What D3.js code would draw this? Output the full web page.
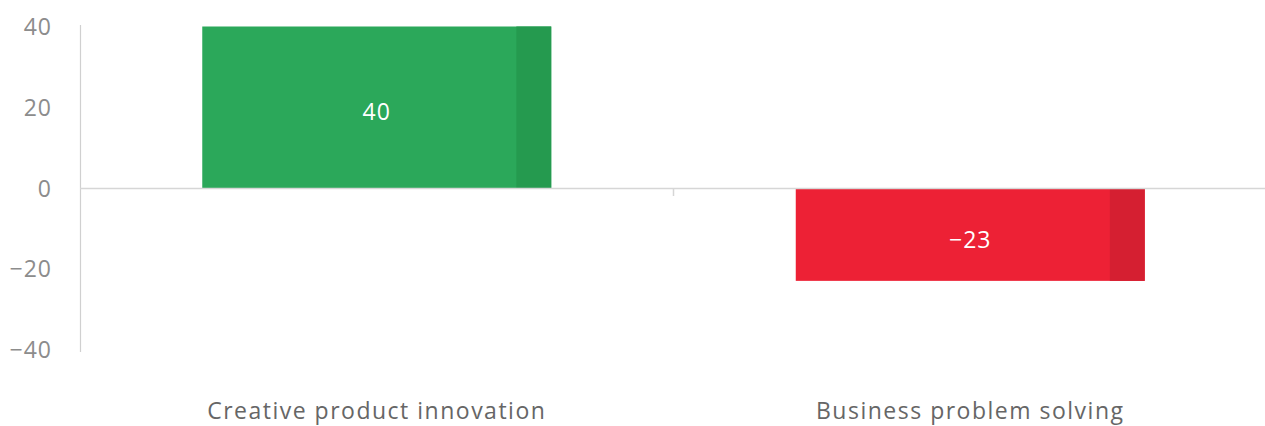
<!DOCTYPE html>
<html><head><meta charset="utf-8">
<script src="https://cdn.jsdelivr.net/npm/d3@7"></script>
<style>
html,body{margin:0;padding:0;background:#fff;}
svg{display:block;}
</style></head>
<body>
<svg id="chart" width="1265" height="426"></svg>
<script>
const categories = ["Creative product innovation", "Business problem solving"];
const values = [40, -23];
const valueLabels = ["40", "\u221223"];
const yTicks = [-40, -20, 0, 20, 40];
const barColors = ["#2ba85a", "#ed2135"];
const barShades = ["#259a4f", "#d51f31"];

const svg = d3.select("#chart");
const W = 1265, H = 426;
const font = "'Open Sans', sans-serif";

const y = d3.scaleLinear().domain([-40, 40]).range([349.5, 26.5]);
const x = d3.scaleBand().domain(categories).range([80, 1267]).paddingInner(0.412).paddingOuter(0.206);

// y axis labels
const yAxis = d3.axisLeft(y).tickValues(yTicks).tickSize(0).tickPadding(0);
const gy = svg.append("g").attr("transform", "translate(52,0)").call(yAxis);
gy.select(".domain").remove();
gy.selectAll("text").attr("font-family", font).attr("font-size", 23).attr("letter-spacing", 1)
  .attr("fill", "#8c8c8c").attr("dy", "0.35em");

// vertical axis line
svg.append("line").attr("x1", 80.5).attr("x2", 80.5).attr("y1", 25).attr("y2", 352)
  .attr("stroke", "#d0d0d0").attr("stroke-width", 1.2);

// bars
const bars = svg.append("g");
categories.forEach((c, i) => {
  const v = values[i];
  const x0 = x(c), bw = x.bandwidth();
  const yt = y(Math.max(0, v)), yb = y(Math.min(0, v));
  bars.append("rect").attr("x", x0).attr("y", yt).attr("width", bw).attr("height", yb - yt).attr("fill", barColors[i]);
  const sw = bw * 0.1;
  bars.append("rect").attr("x", x0 + bw - sw).attr("y", yt).attr("width", sw).attr("height", yb - yt).attr("fill", barShades[i]);
  bars.append("text").attr("x", x0 + bw / 2).attr("y", (yt + yb) / 2 + 7)
    .attr("text-anchor", "middle").attr("dominant-baseline", "middle")
    .attr("font-family", font).attr("font-size", 23).attr("letter-spacing", 1)
    .attr("fill", "#ffffff").text(valueLabels[i]);
});

// zero line
svg.append("line").attr("x1", 80).attr("x2", W).attr("y1", y(0) + 0.5).attr("y2", y(0) + 0.5)
  .attr("stroke", "#d6d6d6").attr("stroke-width", 1.5);
// tick between categories
const mid = x(categories[0]) + x.bandwidth() + x.step() * x.paddingInner() / 2;
svg.append("line").attr("x1", mid).attr("x2", mid).attr("y1", y(0)).attr("y2", y(0) + 8)
  .attr("stroke", "#d6d6d6").attr("stroke-width", 1.5);

// category labels
const xAxis = d3.axisBottom(x).tickSize(0).tickPadding(0);
const gx = svg.append("g").attr("transform", "translate(0,412)").call(xAxis);
gx.select(".domain").remove();
gx.selectAll("text").attr("font-family", font).attr("font-size", 23).attr("letter-spacing", 1.5)
  .attr("fill", "#666666").attr("dy", "0.32em");
</script>
</body></html>
